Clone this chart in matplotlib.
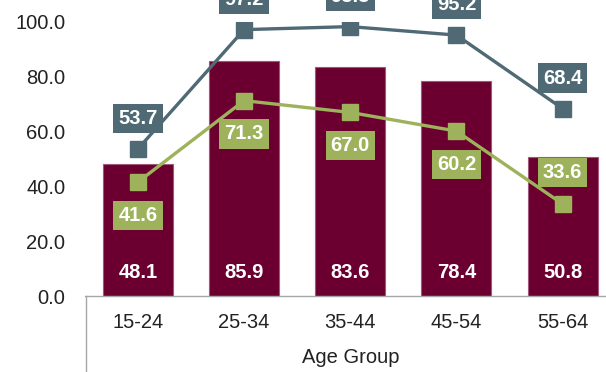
import matplotlib.pyplot as plt
import numpy as np
from matplotlib.lines import Line2D

plt.rcParams['font.family'] = ['Liberation Sans', 'DejaVu Sans']

age_groups = ['15-24', '25-34', '35-44', '45-54', '55-64']
bar_vals = [48.1, 85.9, 83.6, 78.4, 50.8]
upper_line = [53.7, 97.2, 98.3, 95.2, 68.4]
lower_line = [41.6, 71.3, 67.0, 60.2, 33.6]
# label placement for the lower line: below the marker except the last one
lower_above = [False, False, False, False, True]

bar_color = '#6B0030'
slate = '#4F6A74'
olive = '#9DB25A'

fig = plt.figure(figsize=(6.06, 3.72), dpi=100)
ax = fig.add_axes([0.140, 0.204, 0.876, 0.737])

x = np.arange(len(age_groups))
ax.bar(x, bar_vals, width=0.66, color=bar_color, edgecolor='#A0587A', linewidth=0.8, zorder=2)
ax.plot(x, upper_line, color=slate, lw=2.4, marker='s', ms=12, zorder=3)
ax.plot(x, lower_line, color=olive, lw=2.4, marker='s', ms=12, zorder=3)

ax.set_xlim(-0.5, len(age_groups) - 0.5)
ax.set_ylim(0, 100)
ax.set_yticks(np.arange(0, 101, 20))
ax.set_yticklabels([f'{v:.1f}' for v in np.arange(0, 101, 20)])
ax.set_xticks(x)
ax.set_xticklabels(age_groups)
ax.tick_params(axis='both', length=0, labelsize=14.5, colors='#222222')
ax.tick_params(axis='x', pad=12)
ax.tick_params(axis='y', pad=14)
for s in ax.spines.values():
    s.set_visible(False)
ax.set_xlabel('Age Group', fontsize=14.5, color='#222222', labelpad=12)

lbl = dict(ha='center', va='center', color='white', fontsize=14.5, fontweight='bold')

for xi, v in zip(x, bar_vals):
    ax.annotate(f'{v:.1f}', (xi, 0), xytext=(0, 17), textcoords='offset points', zorder=4, **lbl)
for xi, v in zip(x, upper_line):
    ax.annotate(f'{v:.1f}', (xi, v), xytext=(0, 22), textcoords='offset points',
                bbox=dict(boxstyle='square,pad=0.25', fc=slate, ec='none'), zorder=5,
                annotation_clip=False, **lbl)
for xi, v, up in zip(x, lower_line, lower_above):
    ax.annotate(f'{v:.1f}', (xi, v), xytext=(0, 23 if up else -24), textcoords='offset points',
                bbox=dict(boxstyle='square,pad=0.25', fc=olive, ec='none'), zorder=5, **lbl)

# category axis frame
fig.add_artist(Line2D([0.140, 1.0], [0.204, 0.204], color='#A6A6A6', lw=1.0))
fig.add_artist(Line2D([0.142, 0.142], [0.0, 0.204], color='#A6A6A6', lw=1.0))

fig.savefig('out.png', dpi=100)
